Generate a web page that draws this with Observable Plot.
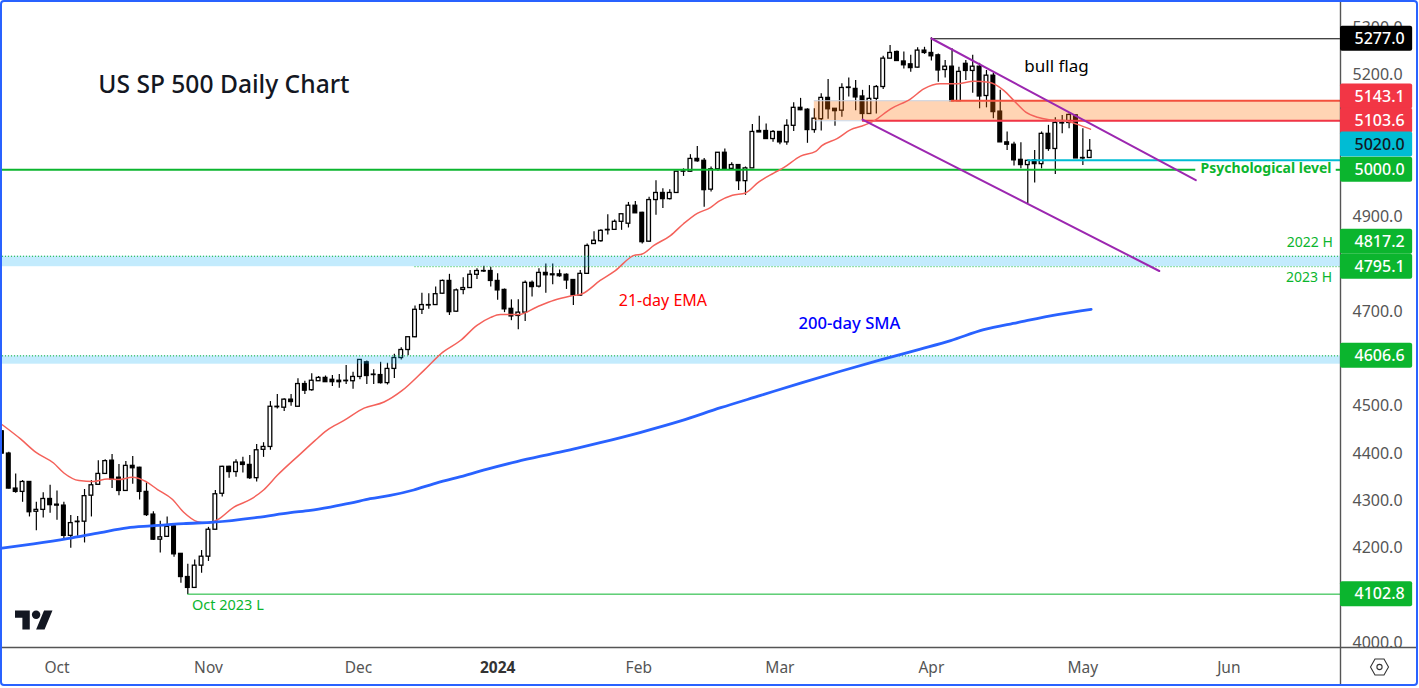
<!DOCTYPE html>
<html>
<head>
<meta charset="utf-8">
<script src="https://cdn.jsdelivr.net/npm/d3@7"></script>
<script src="https://cdn.jsdelivr.net/npm/@observablehq/plot@0.6"></script>
<style>
html,body{margin:0;padding:0;background:#fff;width:1419px;height:688px;overflow:hidden}
#chart{position:absolute;left:0;top:0}
#edge{position:absolute;left:0;top:0;width:1414px;height:682px;border:2px solid #2962ff;border-radius:4px;pointer-events:none}
.icon{position:absolute}
</style>
</head>
<body>
<div id="chart"></div>
<svg class="icon" style="left:15px;top:606px" width="38" height="30" viewBox="0 0 36 28"><path fill="#131722" d="M14 22H7V11H0V4h14v18zM28 22h-8l7.5-18h8L28 22z"/><circle fill="#131722" cx="20" cy="8" r="4"/></svg>
<svg class="icon" style="left:1369px;top:657px" width="21" height="20" viewBox="0 0 21 20"><path fill="none" stroke="#333" stroke-width="1.1" d="M1.5 10 6 2h9l4.500 8-4.500 8H6z"/><circle fill="none" stroke="#333" stroke-width="1.1" cx="10.500" cy="10" r="2.600"/></svg>
<div id="edge"></div>
<script>
const firstBar = -1;
const opens = [
4447,4400,4326,4319,4340,4277,4281,4304,4292,4290,
4226,4255,4256,4311,4334,4357,4385,4349,4321,4374,
4370,4319,4271,4218,4224,4246,4188,4139,4116,4163,
4182,4239,4315,4372,4361,4381,4376,4348,4408,4414,
4498,4497,4514,4499,4547,4534,4553,4560,4556,4554,
4553,4553,4562,4593,4566,4566,4549,4579,4602,4619,
4646,4704,4713,4714,4738,4765,4700,4746,4750,4778,
4785,4786,4765,4746,4706,4691,4698,4761,4753,4782,
4777,4779,4778,4767,4734,4780,4843,4849,4872,4873,
4890,4886,4924,4909,4848,4936,4951,4938,4951,4996,
4996,5023,5019,4958,5001,5036,5002,5010,4976,5003,
5082,5082,5065,5080,5058,5093,5131,5127,5084,5107,
5152,5129,5125,5173,5171,5155,5118,5150,5175,5235,
5249,5229,5223,5216,5252,5247,5242,5211,5218,5145,
5224,5209,5218,5156,5199,5123,5058,5053,5021,5010,
5020,5012,5076,5044,5098,5099,5115,5024,5025];
const highs = [
4449,4403,4357,4343,4340,4297,4317,4333,4321,4297,
4269,4267,4324,4343,4385,4387,4398,4377,4383,4394,
4371,4338,4277,4257,4266,4250,4188,4166,4175,4195,
4244,4322,4373,4373,4387,4392,4396,4419,4423,4510,
4525,4516,4525,4558,4553,4569,4563,4564,4565,4567,
4586,4572,4598,4596,4577,4593,4591,4610,4624,4646,
4712,4739,4738,4752,4767,4779,4748,4772,4787,4791,
4796,4794,4780,4748,4725,4725,4765,4765,4791,4801,
4801,4788,4780,4768,4787,4843,4869,4873,4905,4894,
4906,4931,4933,4910,4942,4977,4960,4958,4996,5002,
5032,5049,5024,5006,5036,5044,5015,5010,5006,5096,
5113,5097,5083,5081,5106,5142,5151,5129,5129,5161,
5191,5129,5182,5194,5189,5168,5178,5178,5240,5263,
5251,5249,5242,5258,5259,5279,5245,5231,5256,5217,
5231,5242,5225,5210,5204,5168,5080,5058,5057,5020,
5041,5080,5094,5110,5115,5118,5116,5087,5064];
const lows = [
4399,4325,4316,4297,4266,4237,4264,4274,4259,4218,
4200,4225,4211,4266,4333,4356,4326,4311,4321,4335,
4302,4267,4216,4190,4223,4181,4126,4102,4116,4147,
4172,4239,4308,4348,4350,4359,4345,4340,4392,4407,
4494,4489,4500,4498,4525,4532,4553,4551,4542,4538,
4546,4536,4556,4546,4546,4547,4545,4559,4598,4607,
4645,4694,4705,4713,4737,4692,4699,4736,4750,4768,
4783,4752,4724,4698,4681,4662,4679,4731,4750,4739,
4757,4773,4747,4713,4733,4779,4843,4847,4862,4872,
4872,4877,4908,4843,4847,4904,4918,4936,4951,4986,
4995,5016,4921,4953,4997,5001,5001,4956,4946,5003,
5079,5064,5058,5053,5052,5081,5125,5056,5077,5082,
5107,5092,5111,5154,5125,5106,5117,5118,5170,5235,
5230,5213,5206,5215,5244,5230,5185,5194,5145,5145,
5189,5162,5129,5131,5108,5058,5041,5008,5002,4928,
4972,5002,5039,4990,5076,5087,5024,5009,5025];
const closes = [
4400,4326,4319,4340,4276,4281,4304,4291,4290,4226,
4253,4256,4310,4333,4357,4384,4345,4321,4374,4369,
4319,4270,4218,4223,4245,4187,4139,4116,4163,4182,
4239,4314,4372,4361,4381,4376,4348,4407,4414,4499,
4499,4514,4509,4547,4533,4554,4560,4551,4551,4551,
4554,4562,4598,4564,4567,4549,4579,4602,4619,4646,
4704,4714,4714,4737,4765,4699,4745,4750,4778,4786,
4786,4765,4745,4705,4690,4698,4761,4752,4782,4777,
4779,4775,4766,4734,4780,4839,4850,4871,4873,4890,
4906,4924,4908,4847,4936,4951,4938,4951,4996,4996.5,
5023,5018,4957,5001,5036,5001,5010,4976,5003,5080,
5079,5065,5080,5058,5093,5131,5126,5084,5108,5152,
5128,5124,5173,5174,5153,5118,5150,5175,5235,5247,
5230,5221,5215,5252,5247,5240,5210,5218,5145,5207,
5209,5218,5155,5199,5122,5058,5053,5020,5010,5019,
5012,5076,5044,5099,5099,5116,5024,5025,5040];

const emaBars = [-0.96,1.7,3.9,6.5,8,10.2,12.3,14.3,16,17.9,19.9,21.6,23.7,25.4,27.4,28.8,30.3,32.7,35.1,37,39,42.4,44.5,46.2,48.7,51.6,54.5,57.1,60.3,63,65.6,68,70,71.4,74.1,76.7,79.2,81.6,83.3,85.9,88.1,90.8,92,93.7,96.1,98,100,101.9,103.1,105.1,107,108.9,111.1,112.6,115,117.2,118.1,120.3,122.3,123.8,125.6,128.1,131,132.9,135.3,137.7,140.2,142.3,144.5,146.2,147.7,149.4,151.1,153.2,155.2,157.1];
const emaValues = [4461,4431,4403,4380,4359,4343,4341,4346,4345,4350,4341,4324,4304,4276,4256,4253,4260,4287,4303,4323,4354,4400,4428,4449,4470,4496,4509,4533,4576,4614,4639,4671,4688,4694,4694,4710,4724,4733,4738,4766,4787,4819,4822,4840,4861,4886,4908,4920,4933,4946,4951,4974,4993,5005,5029,5039,5051,5066,5085,5092,5103,5129,5150,5171,5182,5182,5187,5185,5168,5143,5122,5111,5106,5104,5096,5086];
const smaBars = [-1,3.6,8.5,13.3,17.2,20.6,25.4,29.8,36.1,40.9,43.8,46.7,49.6,52.5,55.4,58.8,61.7,65.1,69.5,73.8,78.2,82.6,85.9,91.8,97.6,103.4,109.2,115,120.8,126.6,132.4,136.8,141.6,146.5,152.3,157.2];
const smaValues = [4200,4209,4220,4233,4243,4247,4252,4255,4265,4275,4280,4287,4295,4304.5,4311.5,4323,4336,4349,4367,4383,4397.5,4411.5,4423,4445,4469,4497,4523,4549,4574,4598,4621,4639,4662,4677,4694,4705];

const flagBars = [134,172.4,124,167.1];
const flagPrices = [5277.6,4978,5106,4786];

const priceTicks = [5300,5200,4900,4700,4500,4400,4300,4200,4000];
const timeTickBars = [7,29,50.8,91.5,112,134,156,177.2];
const timeTickNames = ["Oct","Nov","Dec","Feb","Mar","Apr","May","Jun"];
const yearTickBars = [71];

const tagPrices = [5277,5155,5103.6,5053.5,5000,4848,4795.1,4606.6,4102.8];
const tagTexts = ["5277.0","5143.1","5103.6","5020.0","5000.0","4817.2","4795.1","4606.6","4102.8"];
const tagFills = ["#000000","#f23645","#f23645","#00bcd4","#0bb52e","#0bb52e","#0bb52e","#0bb52e","#0bb52e"];
const tagInks = ["#fff","#fff","#fff","#131722","#fff","#fff","#fff","#fff","#fff"];

const GREEN = "#0bb52e";
const xMin = -0.915, xMax = 193.42, xTagL = xMax, xTagR = 203.9, xTagMid = 199.1, xEdge = 204.5;
const yMax = 5353.7, yMin = 3990, yEdge = 3912;

const bars = opens.map((o,k)=>({i:firstBar+k,o,h:highs[k],l:lows[k],c:closes[k]}));
const ema = emaBars.map((i,k)=>({i,v:emaValues[k]}));
const sma = smaBars.map((i,k)=>({i,v:smaValues[k]}));
const tags = tagPrices.map((p,k)=>({p,t:tagTexts[k],f:tagFills[k],ink:tagInks[k]}));

const zones = [
 {x1:xMin,x2:xMax,y1:4817.2,y2:4795.1,f:"rgba(16,176,247,.25)"},
 {x1:xMin,x2:xMax,y1:4606.6,y2:4589,f:"rgba(16,176,247,.25)"},
 {x1:117,x2:xMax,y1:5146,y2:5103.6,f:"rgba(255,112,8,.3)"}
];
const levels = [
 {x1:117,x2:xMax,y:5146,s:"#c8d6e8",w:1},
 {x1:117,x2:xMax,y:5103.6,s:"#c8d6e8",w:1},
 {x1:136.9,x2:xMax,y:5146,s:"#f4503c",w:2},
 {x1:124,x2:xMax,y:5103.6,s:"#f23645",w:2},
 {x1:148,x2:xMax,y:5020,s:"#00bcd4",w:2},
 {x1:xMin,x2:172.4,y:5000,s:GREEN,w:2},
 {x1:192.8,x2:xMax,y:5000,s:GREEN,w:2},
 {x1:134,x2:xMax,y:5277,s:"#000",w:1},
 {x1:26,x2:xMax,y:4102.8,s:GREEN,w:1}
];
const dotted = [
 {x1:xMin,x2:xMax,y:4817.2},
 {x1:59,x2:xMax,y:4795.1},
 {x1:xMin,x2:xMax,y:4606.6}
];
const notes = [
 {i:13,p:5178,t:"US SP 500 Daily Chart",c:"#131722",s:24.6,w:500,a:"start"},
 {i:147.5,p:5218,t:"bull flag",c:"#000",s:17,w:400,a:"start"},
 {i:88.6,p:4722,t:"21-day EMA",c:"#ff0000",s:16,w:400,a:"start"},
 {i:114.7,p:4675,t:"200-day SMA",c:"#0000ff",s:16.6,w:500,a:"start"},
 {i:173.1,p:5002,t:"Psychological level",c:GREEN,s:14,w:700,a:"start"},
 {i:192.3,p:4846,t:"2022 H",c:GREEN,s:14,w:400,a:"end"},
 {i:192.2,p:4772,t:"2023 H",c:GREEN,s:14,w:400,a:"end"},
 {i:26.6,p:4079,t:"Oct 2023 L",c:GREEN,s:14.5,w:400,a:"start"}
];

const chart = Plot.plot({
  width:1419,height:688,marginLeft:2,marginRight:79,marginTop:2,marginBottom:41,
  style:{fontFamily:"'Noto Sans',sans-serif",background:"#fff",overflow:"visible"},
  x:{type:"linear",domain:[xMin,xMax]},
  y:{type:"linear",domain:[yMin,yMax]},
  marks:[
    Plot.axisY({anchor:"right",ticks:priceTicks,tickSize:0,tickPadding:12,tickFormat:d3.format(".1f"),fontSize:16,color:"#555",label:null}),
    Plot.axisX({anchor:"bottom",ticks:timeTickBars,tickSize:0,tickPadding:14,tickFormat:i=>timeTickNames[timeTickBars.indexOf(i)],fontSize:15.5,color:"#555",label:null}),
    Plot.axisX({anchor:"bottom",ticks:yearTickBars,tickSize:0,tickPadding:14,tickFormat:()=>"2024",fontSize:15.5,fontWeight:700,color:"#333",label:null}),
    Plot.ruleX(bars,{x:"i",y1:"l",y2:"h",stroke:"#000",strokeWidth:1.2}),
    Plot.rect(bars,{x1:d=>d.i-.27,x2:d=>d.i+.27,y1:"o",y2:"c",fill:d=>d.c>=d.o?"#fff":"#000",stroke:"#000",strokeWidth:1.3}),
    Plot.rect(zones,{x1:"x1",x2:"x2",y1:"y1",y2:"y2",fill:d=>d.f}),
    Plot.ruleY(dotted,{x1:"x1",x2:"x2",y:"y",stroke:GREEN,strokeWidth:1,strokeDasharray:"1,2"}),
    Plot.ruleY(levels,{x1:"x1",x2:"x2",y:"y",stroke:d=>d.s,strokeWidth:d=>d.w}),
    Plot.line(ema,{x:"i",y:"v",stroke:"#f4615a",strokeWidth:1.5,curve:"monotone-x"}),
    Plot.line(sma,{x:"i",y:"v",stroke:"#2962ff",strokeWidth:2.8,curve:"monotone-x"}),
    Plot.line([[flagBars[0],flagPrices[0]],[flagBars[1],flagPrices[1]]],{stroke:"#9c27b0",strokeWidth:2}),
    Plot.line([[flagBars[2],flagPrices[2]],[flagBars[3],flagPrices[3]]],{stroke:"#9c27b0",strokeWidth:2}),
    ...notes.map(n=>Plot.text([n],{x:"i",y:"p",text:"t",fill:n.c,fontSize:n.s,fontWeight:n.w,textAnchor:n.a})),
    Plot.ruleX([xMax],{y1:yMax,y2:yEdge,stroke:"#555",strokeWidth:1.4}),
    Plot.ruleY([yMin],{x1:xMin,x2:xEdge,stroke:"#555",strokeWidth:1.4}),
    Plot.rect(tags,{x1:xTagL,x2:xTagR,y1:"p",y2:"p",insetTop:-12.5,insetBottom:-12.5,fill:d=>d.f,rx:2}),
    Plot.text(tags,{x:xTagMid,y:"p",text:"t",fill:d=>d.ink,fontSize:16,fontWeight:500})
  ]
});
document.getElementById("chart").appendChild(chart);
</script>
</body>
</html>
